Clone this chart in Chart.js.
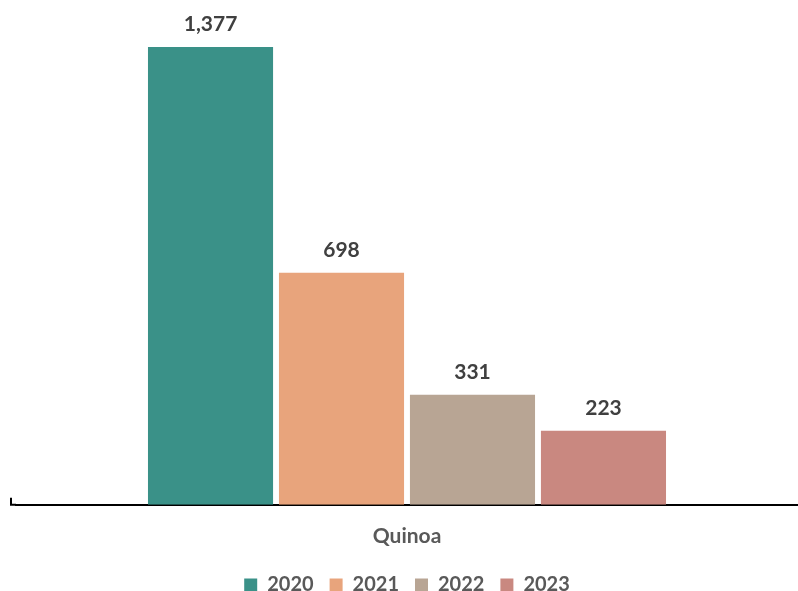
<!DOCTYPE html>
<html>
<head>
<meta charset="utf-8">
<script src="https://cdn.jsdelivr.net/npm/chart.js@4/dist/chart.umd.min.js"></script>
<style>
  html, body { margin: 0; padding: 0; background: #fff; }
  #wrap { width: 798px; height: 591px; }
</style>
</head>
<body>
<div id="wrap"><canvas id="grafico"></canvas></div>
<script>
// Datos de quinoa por año
const categorias = ['Quinoa'];
const anios = ['2020', '2021', '2022', '2023'];
const valores = [1377, 698, 331, 223];
const colores = ['#3A9188', '#E8A47C', '#B8A594', '#C98880'];

const fuente = "Lato, 'Open Sans', sans-serif";

// Etiquetas de valor encima de cada barra
const etiquetasValor = {
    id: 'etiquetasValor',
    afterDatasetsDraw(chart) {
        const ctx = chart.ctx;
        ctx.save();
        ctx.font = 'bold 21px ' + fuente;
        ctx.fillStyle = '#404040';
        ctx.textAlign = 'center';
        ctx.textBaseline = 'bottom';
        chart.data.datasets.forEach((ds, i) => {
            const meta = chart.getDatasetMeta(i);
            meta.data.forEach((bar, j) => {
                ctx.fillText(ds.data[j].toLocaleString('en-US'), bar.x, bar.y - 12);
            });
        });
        ctx.restore();
    }
};

// El eje X empieza un poco antes del área, con una marca corta al inicio
const marcaEje = {
    id: 'marcaEje',
    afterDraw(chart) {
        const { ctx, chartArea } = chart;
        const x0 = chartArea.left - 6;
        ctx.save();
        ctx.strokeStyle = '#000';
        ctx.lineWidth = 2;
        ctx.beginPath();
        ctx.moveTo(x0, chartArea.bottom);
        ctx.lineTo(chartArea.left, chartArea.bottom);
        ctx.moveTo(x0 + 1, chartArea.bottom - 7);
        ctx.lineTo(x0 + 1, chartArea.bottom);
        ctx.stroke();
        ctx.restore();
    }
};

new Chart(document.getElementById('grafico'), {
    type: 'bar',
    data: {
        labels: categorias,
        datasets: anios.map((a, i) => ({
            label: a,
            data: [valores[i]],
            backgroundColor: colores[i],
            categoryPercentage: 0.67,
            barPercentage: 0.955
        }))
    },
    options: {
        responsive: true,
        maintainAspectRatio: false,
        animation: false,
        layout: { padding: { top: 6, left: 16, right: 0, bottom: -14 } },
        plugins: {
            legend: {
                position: 'bottom',
                labels: {
                    boxWidth: 13,
                    boxHeight: 13,
                    padding: 16,
                    color: '#595959',
                    font: { family: fuente, size: 20, weight: 'bold' }
                }
            },
            tooltip: { enabled: false }
        },
        scales: {
            x: {
                grid: { display: false },
                border: { display: true, color: '#000', width: 2 },
                ticks: {
                    color: '#595959',
                    padding: 11,
                    font: { family: fuente, size: 21, weight: 'bold' }
                },
                afterFit(scale) { scale.height -= 1; }
            },
            y: {
                display: false,
                min: 0,
                max: 1500
            }
        }
    },
    plugins: [etiquetasValor, marcaEje]
});
</script>
</body>
</html>
